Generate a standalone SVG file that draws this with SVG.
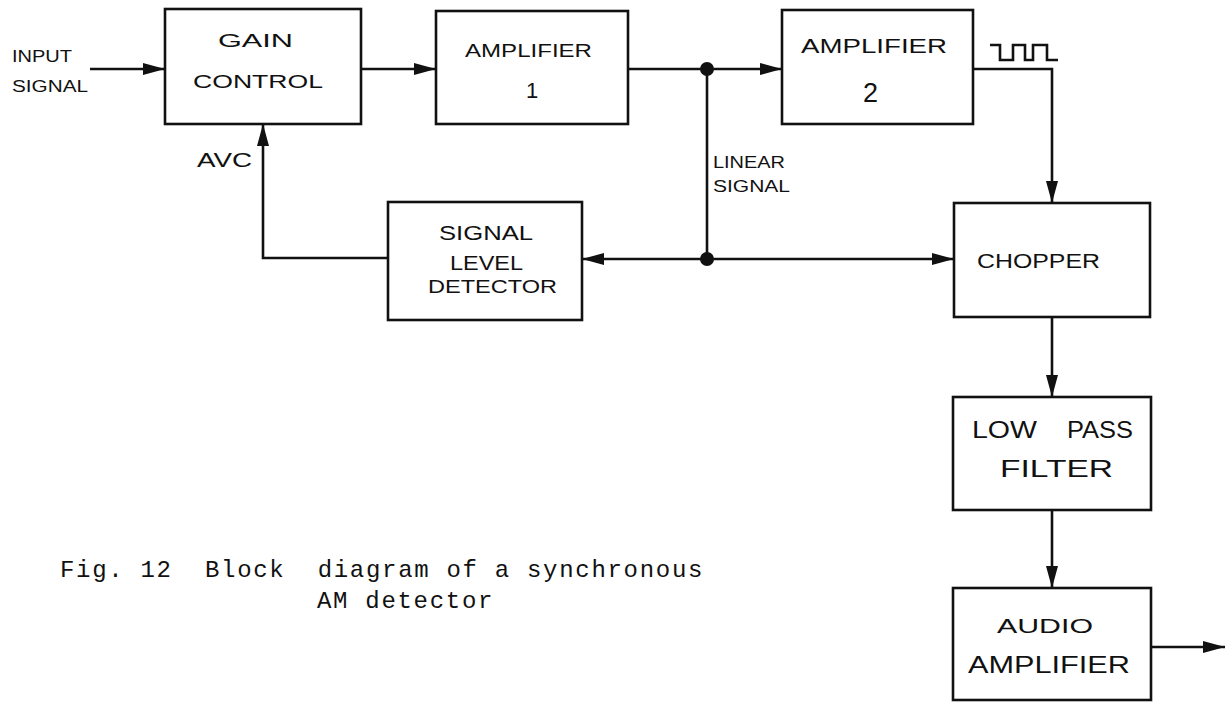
<svg xmlns="http://www.w3.org/2000/svg" width="1226" height="702" viewBox="0 0 1226 702">
<style>
.box{fill:#fff;stroke:#111;stroke-width:2.6}
.ln{fill:none;stroke:#111;stroke-width:2.6}
.hw{font-family:"Liberation Sans",Arial,sans-serif;fill:#111}
.cap{font-family:"Liberation Mono","Courier New",monospace;font-size:24px;letter-spacing:1.7px;fill:#111}
</style>
<defs>
<marker id="ah" markerUnits="userSpaceOnUse" markerWidth="22" markerHeight="12" refX="22" refY="6" orient="auto">
<path d="M0,0 L22,6 L0,12 z" fill="#111"/>
</marker>
</defs>
<rect width="1226" height="702" fill="#fff"/>
<g id="connectors">
<line class="ln" x1="90" y1="69" x2="165" y2="69" marker-end="url(#ah)"/>
<line class="ln" x1="361" y1="69" x2="436" y2="69" marker-end="url(#ah)"/>
<line class="ln" x1="628" y1="69" x2="782" y2="69" marker-end="url(#ah)"/>
<line class="ln" x1="707" y1="69" x2="707" y2="259"/>
<line class="ln" x1="707" y1="259" x2="582" y2="259" marker-end="url(#ah)"/>
<line class="ln" x1="707" y1="259" x2="954" y2="259" marker-end="url(#ah)"/>
<polyline class="ln" points="388,258 263,258 263,124" marker-end="url(#ah)"/>
<polyline class="ln" points="973,69 1052,69 1052,203" marker-end="url(#ah)"/>
<line class="ln" x1="1052" y1="317" x2="1052" y2="397" marker-end="url(#ah)"/>
<line class="ln" x1="1052" y1="510" x2="1052" y2="588" marker-end="url(#ah)"/>
<line class="ln" x1="1151" y1="647" x2="1225" y2="647" marker-end="url(#ah)"/>
<circle cx="707" cy="69" r="7" fill="#111"/>
<circle cx="707" cy="259" r="7" fill="#111"/>
<path class="ln" stroke-width="2" d="M990,45 H1000 V60 H1013 V45 H1025 V60 H1033 V45 H1047 V60 H1058"/>
</g>
<g id="labels">
<text class="hw" x="12" y="62" font-size="16" textLength="60" lengthAdjust="spacingAndGlyphs">INPUT</text>
<text class="hw" x="12" y="92" font-size="16" textLength="76" lengthAdjust="spacingAndGlyphs">SIGNAL</text>
<text class="hw" x="197" y="167" font-size="20" textLength="55" lengthAdjust="spacingAndGlyphs">AVC</text>
<text class="hw" x="713" y="168" font-size="16" textLength="72" lengthAdjust="spacingAndGlyphs">LINEAR</text>
<text class="hw" x="713" y="192" font-size="16" textLength="77" lengthAdjust="spacingAndGlyphs">SIGNAL</text>
</g>
<g id="gain-control">
<rect class="box" x="165" y="9" width="196" height="115"/>
<text class="hw" x="218" y="47" font-size="18" textLength="75" lengthAdjust="spacingAndGlyphs">GAIN</text>
<text class="hw" x="193" y="88" font-size="18" textLength="130" lengthAdjust="spacingAndGlyphs">CONTROL</text>
</g>
<g id="amplifier-1">
<rect class="box" x="436" y="11" width="192" height="113"/>
<text class="hw" x="465" y="57" font-size="18" textLength="127" lengthAdjust="spacingAndGlyphs">AMPLIFIER</text>
<text class="hw" x="526" y="98" font-size="22">1</text>
</g>
<g id="amplifier-2">
<rect class="box" x="782" y="10" width="191" height="114"/>
<text class="hw" x="801" y="53" font-size="20" textLength="146" lengthAdjust="spacingAndGlyphs">AMPLIFIER</text>
<text class="hw" x="863" y="102" font-size="27">2</text>
</g>
<g id="signal-level-detector">
<rect class="box" x="388" y="202" width="194" height="118"/>
<text class="hw" x="439" y="240" font-size="21" textLength="94" lengthAdjust="spacingAndGlyphs">SIGNAL</text>
<text class="hw" x="450" y="270" font-size="20" textLength="73" lengthAdjust="spacingAndGlyphs">LEVEL</text>
<text class="hw" x="428" y="293" font-size="18" textLength="129" lengthAdjust="spacingAndGlyphs">DETECTOR</text>
</g>
<g id="chopper">
<rect class="box" x="954" y="203" width="196" height="114"/>
<text class="hw" x="977" y="268" font-size="20" textLength="123" lengthAdjust="spacingAndGlyphs">CHOPPER</text>
</g>
<g id="low-pass-filter">
<rect class="box" x="953" y="397" width="198" height="113"/>
<text class="hw" x="972" y="438" font-size="23" textLength="65" lengthAdjust="spacingAndGlyphs">LOW</text>
<text class="hw" x="1067" y="438" font-size="23" textLength="66" lengthAdjust="spacingAndGlyphs">PASS</text>
<text class="hw" x="1000" y="477" font-size="23" textLength="113" lengthAdjust="spacingAndGlyphs">FILTER</text>
</g>
<g id="audio-amplifier">
<rect class="box" x="953" y="588" width="198" height="112"/>
<text class="hw" x="997" y="633" font-size="21" textLength="96" lengthAdjust="spacingAndGlyphs">AUDIO</text>
<text class="hw" x="968" y="673" font-size="23" textLength="162" lengthAdjust="spacingAndGlyphs">AMPLIFIER</text>
</g>
<g id="caption">
<text class="cap" x="60" y="577" xml:space="preserve">Fig. 12  Block  diagram of a synchronous</text>
<text class="cap" x="317" y="608">AM detector</text>
</g>
</svg>
